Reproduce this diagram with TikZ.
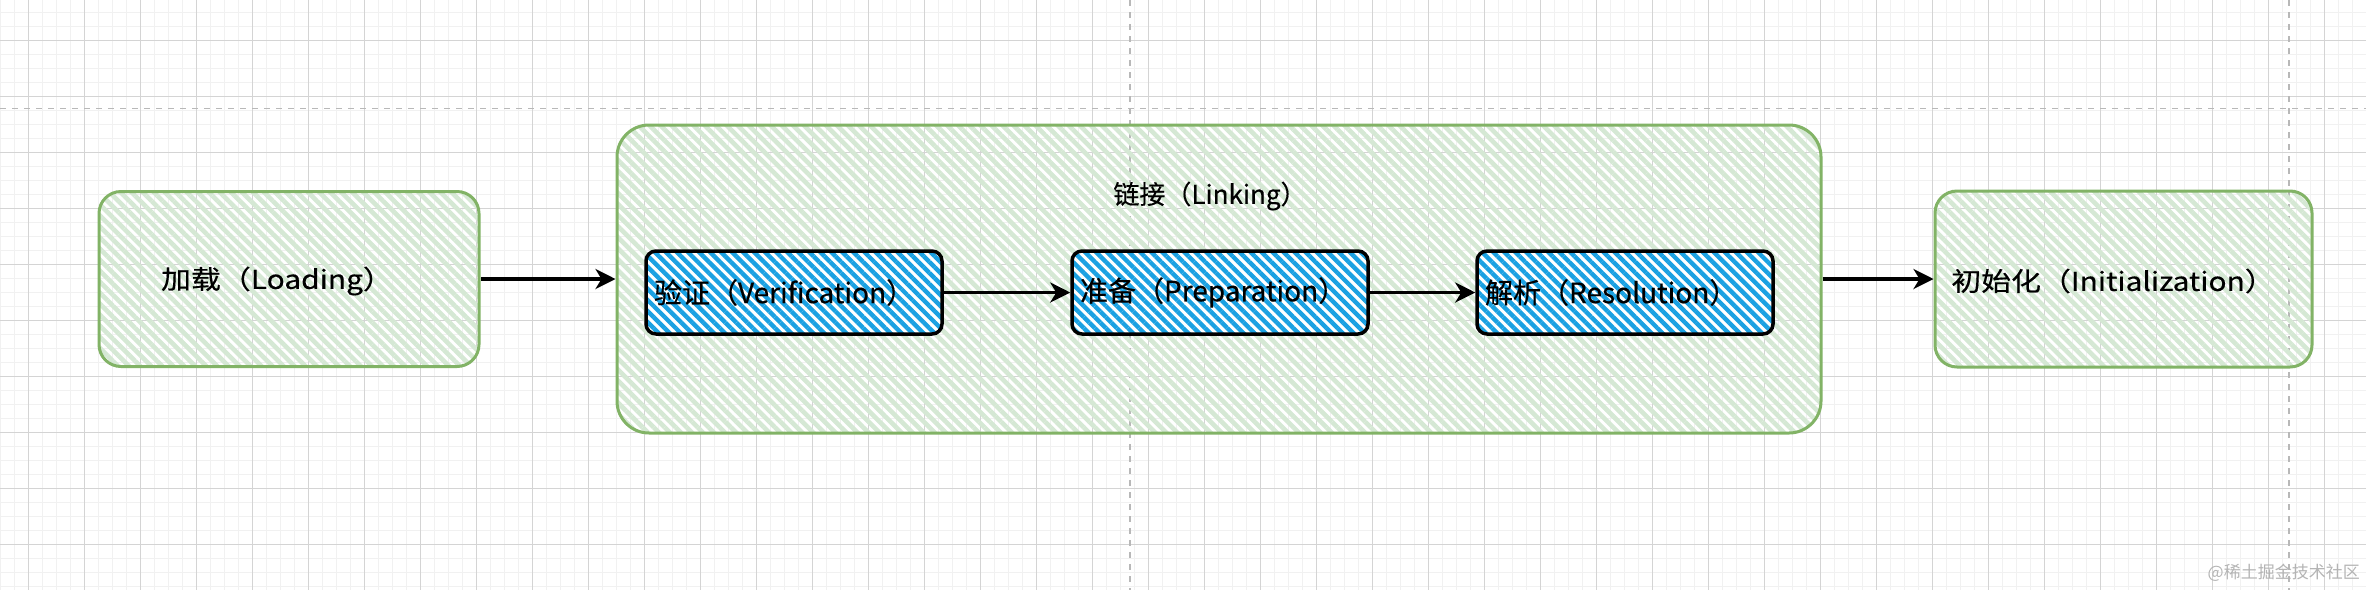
\documentclass[tikz,border=0pt]{standalone}
\usepackage{fontspec}
\setmainfont[FakeBold=0.4]{Noto Sans CJK SC}
\newfontfamily\handfont[FakeStretch=1.15,FakeBold=0.4]{Noto Sans CJK SC}
\newfontfamily\wmfont{Noto Sans CJK SC}
\usetikzlibrary{arrows.meta,patterns.meta}
\definecolor{gridmajor}{HTML}{D4D4D4}
\definecolor{gridminor}{HTML}{F1F1F1}
\definecolor{pagebreak}{HTML}{B8B8B8}
\definecolor{greenline}{HTML}{82B366}
\definecolor{greenhatch}{HTML}{D5E8D4}
\definecolor{bluehatch}{HTML}{1BA1E2}
\definecolor{wmark}{HTML}{B4B4B4}
\tikzset{
  minorgrid/.style={gridminor, line width=1pt},
  majorgrid/.style={gridmajor, line width=1pt},
  pagebreakline/.style={pagebreak, line width=1.5pt, dash pattern=on 6pt off 6pt},
  greenbox/.style={draw=greenline, line width=3pt, rectangle, inner sep=0pt,
    pattern={Lines[angle=-45,distance=7.8pt,line width=4.6pt]}, pattern color=greenhatch},
  bluebox/.style={draw=black, line width=3.5pt, rectangle, rounded corners=10pt,
    preaction={fill=white},
    pattern={Lines[angle=-45,distance=7.8pt,line width=4.4pt]}, pattern color=bluehatch,
    minimum width=296pt, minimum height=83pt, inner xsep=8pt, inner ysep=0pt,
    text width=280pt, align=left, font=\fontsize{28pt}{32pt}\selectfont},
  biglabel/.style={font=\handfont\fontsize{26pt}{30pt}\selectfont, inner sep=0pt},
  linklabelstyle/.style={font=\fontsize{26pt}{30pt}\selectfont, inner sep=0pt},
  arr/.style={line width=3.5pt, -{Stealth[length=20pt,width=20pt,inset=6pt]}},
}
\begin{document}
\begin{tikzpicture}[x=1pt,y=-1pt]
\useasboundingbox (0,0) rectangle (2366,590);
\fill[white] (0,0) rectangle (2366,590);
% minor grid
\foreach \i in {0,...,169} { \draw[minorgrid] (0.3+14*\i,0) -- (0.3+14*\i,590); }
\foreach \j in {0,...,42} { \draw[minorgrid] (0,12.7+14*\j) -- (2366,12.7+14*\j); }
% major grid
\foreach \i in {0,...,42} { \draw[majorgrid] (28.3+56*\i,0) -- (28.3+56*\i,590); }
\foreach \j in {0,...,10} { \draw[majorgrid] (0,40.7+56*\j) -- (2366,40.7+56*\j); }
% page breaks
\draw[pagebreakline] (0,108.5) -- (2366,108.5);
\draw[pagebreakline] (1130,0) -- (1130,590);
\draw[pagebreakline] (2289,0) -- (2289,590);

% boxes
\node[greenbox, rounded corners=22pt, minimum width=380pt, minimum height=175pt] (load) at (289,279) {};
\node[biglabel] (loadtext) at (277,281) {加载（Loading）};

\node[greenbox, rounded corners=32pt, minimum width=1204pt, minimum height=308pt] (link) at (1219,279) {};
\node[linklabelstyle] (linktext) at (1210,196) {链接（Linking）};

\node[bluebox] (ver) at (794,292.5) {验证（Verification）};
\node[bluebox] (prep) at (1220,292.5) {准备（Preparation）};
\node[bluebox] (res) at (1625,292.5) {解析（Resolution）};

\node[greenbox, rounded corners=22pt, minimum width=377pt, minimum height=176pt] (init) at (2123.5,279) {};
\node[biglabel] (inittext) at (2113,281) {初始化（Initialization）};

% connectors
\draw[arr] (load.east) -- (link.west);
\draw[arr] (ver.east) -- (prep.west);
\draw[arr] (prep.east) -- (res.west);
\draw[arr] (link.east) -- (init.west);

% watermark
\node[anchor=east, inner sep=0pt, text=wmark, font=\wmfont\fontsize{17pt}{20pt}\selectfont] (wm) at (2360,573) {@稀土掘金技术社区};
\end{tikzpicture}
\end{document}
